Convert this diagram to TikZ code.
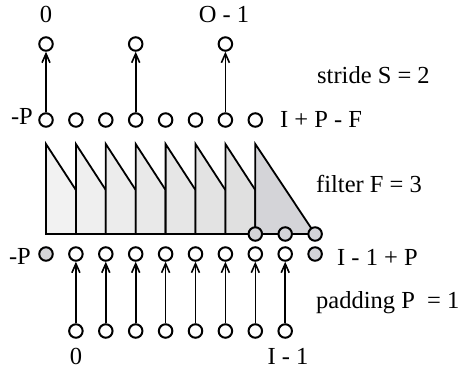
\documentclass[tikz,border=0pt]{standalone}
\usepackage{fontspec}
\setmainfont{Liberation Serif}
\usetikzlibrary{arrows.meta}
\definecolor{padgray}{RGB}{212,212,216}
\begin{document}
\begin{tikzpicture}[x=1pt,y=-1pt,
  io/.style={circle, draw, line width=2pt, minimum size=13.5pt, inner sep=0pt, fill=white},
  pad/.style={io, fill=padgray},
  lbl/.style={font=\fontsize{24.5}{29}\selectfont, inner sep=0pt},
  conn/.style={line width=1.6pt, -{Straight Barb[length=9pt,width=8pt,line width=1.6pt]}},
  seg/.style={draw, line width=1.8pt, line join=miter}]
\useasboundingbox (0,0) rectangle (461,370);

% filter sawtooth
\foreach \i in {0,...,6}{
  \pgfmathsetmacro\xa{46+29.9*\i}
  \pgfmathsetmacro\xb{46+29.9*(\i+1)}
  \pgfmathsetmacro\sh{5+1.2*\i}
  \filldraw[seg, fill=black!\sh] (\xa,234) -- (\xa,144) -- (\xb,190) -- (\xb,234) -- cycle;
}
\filldraw[seg, fill=padgray] ({46+29.9*7},234) -- ({46+29.9*7},144) -- ({46+29.9*9},234) -- cycle;
\draw[line width=1.8pt] (46,234) -- ({46+29.9*9},234);

% nodes
\foreach \i in {0,...,7}{ \node[io] (u\i) at ({46+29.9*\i},120) {}; }
\foreach \i in {0,3,6}{ \node[io] (t\i) at ({46+29.9*\i},44) {}; }
\foreach \i in {7,8,9}{ \node[pad] (f\i) at ({46+29.9*\i},234) {}; }
\node[pad] (l0) at (46,254) {};
\foreach \i in {1,...,8}{ \node[io] (l\i) at ({46+29.9*\i},254) {}; }
\node[pad] (l9) at ({46+29.9*9},254) {};
\foreach \i in {1,...,8}{ \node[io] (b\i) at ({46+29.9*\i},331) {}; }

% connectors
\foreach \i in {0,3,6}{ \draw[conn] (u\i.north) -- (t\i.south); }
\foreach \i in {1,...,8}{ \draw[conn] (b\i.north) -- (l\i.south); }

% labels
\node[lbl, anchor=base] (lt0) at (46,22) {0};
\node[lbl, anchor=base] (ltO) at (224,22) {O - 1};
\node[lbl, anchor=base west] (ls) at (317,83) {stride S = 2};
\node[lbl, anchor=base east] (lpu) at (33,124) {-P};
\node[lbl, anchor=base west] (lipf) at (280,127) {I + P - F};
\node[lbl, anchor=base west] (lf) at (316,192) {filter F = 3};
\node[lbl, anchor=base east] (lpl) at (31,264) {-P};
\node[lbl, anchor=base west] (li1p) at (337,265) {I - 1 + P};
\node[lbl, anchor=base west] (lpad) at (316,308) {padding P\ \ = 1};
\node[lbl, anchor=base] (lb0) at (76,364) {0};
\node[lbl, anchor=base] (lbi) at (288,364) {I - 1};
\end{tikzpicture}
\end{document}
